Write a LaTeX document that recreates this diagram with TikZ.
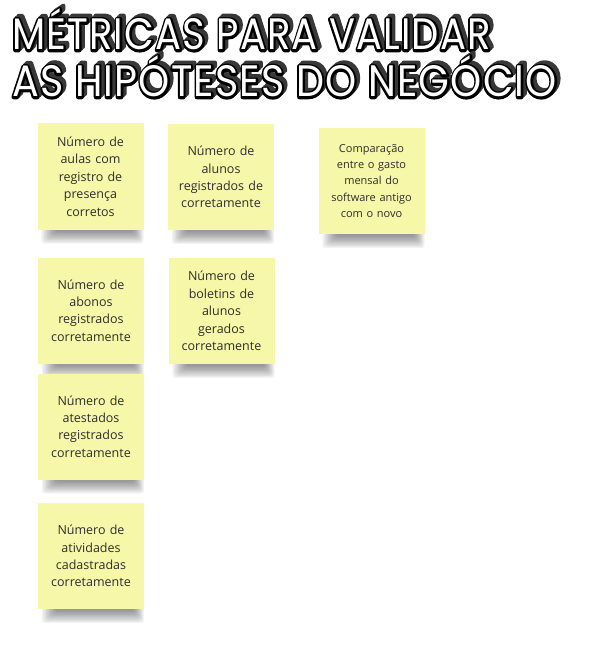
\documentclass[tikz,border=0pt]{standalone}
\usepackage{fontspec}
\setmainfont{Open Sans}
\newfontfamily\titlefont{Poppins}[LetterSpace=3]
\usetikzlibrary{calc,backgrounds}
\definecolor{notey}{RGB}{247,247,170}
\definecolor{notetext}{RGB}{45,45,45}
\definecolor{ttlshadow}{RGB}{55,55,55}
\tikzset{
  note/.style={fill=notey, minimum width=106pt, minimum height=106pt, align=center,
    text=notetext, text width=100pt, inner sep=0pt,
    font=\fontsize{12.5}{17.4}\selectfont},
  notesmall/.style={note, font=\fontsize{11}{16.3}\selectfont},
  ttl/.style={anchor=base west, inner sep=0pt, font=\titlefont\fontsize{44}{44}\selectfont},
}
% stroked text: #1 line width, #2 stroke colour (pdf RG values)
\newcommand\strk[3]{\special{pdf:literal direct 1 j 1 J #1 w #2 RG 2 Tr}#3\special{pdf:literal direct 0 Tr}}
\newcommand\titleline[4]{%
  \node[ttl, text=ttlshadow] (#1-shadow) at ($(#2)+(3.4pt,3.4pt)$) {\scalebox{#3}[1]{\strk{4.6}{0.22 0.22 0.22}{#4}}};
  \node[ttl, text=ttlshadow] (#1-shadowb) at ($(#2)+(1.7pt,1.7pt)$) {\scalebox{#3}[1]{\strk{4.6}{0.22 0.22 0.22}{#4}}};
  \node[ttl, text=black] (#1-outline) at (#2) {\scalebox{#3}[1]{\strk{4.6}{0 0 0}{#4}}};
  \node[ttl, text=white] (#1) at (#2) {\scalebox{#3}[1]{#4}};
}
\newcommand\noteshadow[1]{%
  \foreach \k in {0,...,10}{%
    \fill[black, opacity=0.045, rounded corners=3pt]
      ($(#1.south west)+(4+\k*1.4,-2)$) rectangle ($(#1.south east)+(-\k*1.0,14-\k*1.2)$);
  }}
\begin{document}
\begin{tikzpicture}[x=1pt,y=-1pt]
\useasboundingbox (0,0) rectangle (610,660);
\coordinate (l1) at (12,50);
\coordinate (l2) at (12,97);
\titleline{title1}{l1}{0.875}{MÉTRICAS PARA VALIDAR}
\titleline{title2}{l2}{0.90}{AS HIPÓTESES DO NEGÓCIO}

\node[note] (n1) at (90.5,176.5) {Número de\\aulas com\\registro de\\presença\\corretos};
\node[note] (n2) at (221,177) {Número de\\alunos\\registrados de\\corretamente};
\node[notesmall] (n3) at (371.5,181) {Comparação\\entre o gasto\\mensal do\\software antigo\\com o novo};
\node[note] (n4) at (91,310.5) {Número de\\abonos\\registrados\\corretamente};
\node[note] (n5) at (221.5,311) {Número de\\boletins de\\alunos\\gerados\\corretamente};
\node[note] (n6) at (91,426.5) {Número de\\atestados\\registrados\\corretamente};
\node[note] (n7) at (91,556) {Número de\\atividades\\cadastradas\\corretamente};

\begin{scope}[on background layer]
\fill[white] (0,0) rectangle (610,660);
\noteshadow{n1}\noteshadow{n2}\noteshadow{n3}\noteshadow{n4}
\noteshadow{n5}\noteshadow{n6}\noteshadow{n7}
\end{scope}
\end{tikzpicture}
\end{document}
